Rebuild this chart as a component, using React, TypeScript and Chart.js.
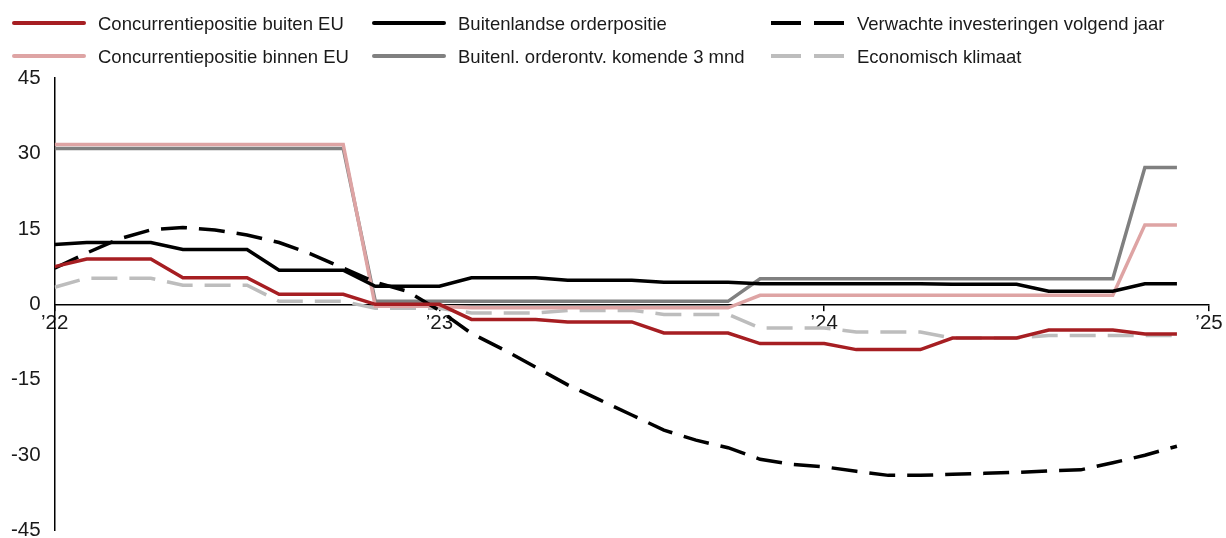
import React, { useEffect, useRef } from "react";
import { Chart, registerables } from "chart.js";

Chart.register(...registerables);

const months: string[] = [
  "jan 2022", "feb 2022", "mrt 2022", "apr 2022", "mei 2022", "jun 2022",
  "jul 2022", "aug 2022", "sep 2022", "okt 2022", "nov 2022", "dec 2022",
  "jan 2023", "feb 2023", "mrt 2023", "apr 2023", "mei 2023", "jun 2023",
  "jul 2023", "aug 2023", "sep 2023", "okt 2023", "nov 2023", "dec 2023",
  "jan 2024", "feb 2024", "mrt 2024", "apr 2024", "mei 2024", "jun 2024",
  "jul 2024", "aug 2024", "sep 2024", "okt 2024", "nov 2024", "dec 2024",
];

const yearLabels: string[] = ["\u201922", "\u201923", "\u201924", "\u201925"];
const yTicks: number[] = [-45, -30, -15, 0, 15, 30, 45];

const concBuitenEU: number[] = [
  7.5, 9, 9, 9, 5.3, 5.3, 5.3, 2, 2, 2, 0, 0, 0, -3.0, -3.0, -3.0, -3.5, -3.5,
  -3.5, -5.7, -5.7, -5.7, -7.8, -7.8, -7.8, -9, -9, -9, -6.7, -6.7, -6.7, -5.1,
  -5.1, -5.1, -5.9, -5.9,
];

const concBinnenEU: number[] = [
  31.8, 31.8, 31.8, 31.8, 31.8, 31.8, 31.8, 31.8, 31.8, 31.8, -0.4, -0.4, -0.4,
  -0.7, -0.7, -0.7, -0.7, -0.7, -0.7, -0.7, -0.7, -0.7, 1.8, 1.8, 1.8, 1.8, 1.8,
  1.8, 1.8, 1.8, 1.8, 1.8, 1.8, 1.8, 15.8, 15.8,
];

const orderpositie: number[] = [
  11.9, 12.3, 12.3, 12.3, 10.9, 10.9, 10.9, 6.8, 6.8, 6.8, 3.6, 3.6, 3.6, 5.3,
  5.3, 5.3, 4.8, 4.8, 4.8, 4.4, 4.4, 4.4, 4.1, 4.1, 4.1, 4.1, 4.1, 4.1, 4.0, 4.0,
  4.0, 2.6, 2.6, 2.6, 4.1, 4.1,
];

const orderontvangst: number[] = [
  31, 31, 31, 31, 31, 31, 31, 31, 31, 31, 0.6, 0.6, 0.6, 0.6, 0.6, 0.6, 0.6, 0.6,
  0.6, 0.6, 0.6, 0.6, 5.1, 5.1, 5.1, 5.1, 5.1, 5.1, 5.1, 5.1, 5.1, 5.1, 5.1, 5.1,
  27.2, 27.2,
];

const investeringen: number[] = [
  7.2, 10.2, 13, 14.8, 15.3, 14.8, 13.8, 12.3, 10, 7.2, 4.4, 2.6, -1.2, -5.8, -9,
  -12.5, -16, -19, -22, -25, -27, -28.5, -30.8, -31.8, -32.3, -33.2, -34, -34,
  -33.8, -33.6, -33.4, -33.1, -32.9, -31.5, -30, -28.2,
];

const klimaat: number[] = [
  3.4, 5.2, 5.2, 5.2, 3.8, 3.8, 3.8, 0.6, 0.6, 0.6, -0.8, -0.8, -0.8, -1.7, -1.7,
  -1.7, -1.2, -1.2, -1.2, -2.0, -2.0, -2.0, -4.7, -4.7, -4.7, -5.5, -5.5, -5.5,
  -6.7, -6.7, -6.7, -6.2, -6.2, -6.2, -6.2, -6.2,
];

const FONT = "'Liberation Sans', Arial, sans-serif";
const TEXT = "#1a1a1a";

const series = [
  { label: "Concurrentiepositie buiten EU", data: concBuitenEU, color: "#a61e22", dash: [] as number[], width: 3.5 },
  { label: "Buitenlandse orderpositie", data: orderpositie, color: "#000000", dash: [] as number[], width: 3.5 },
  { label: "Verwachte investeringen volgend jaar", data: investeringen, color: "#000000", dash: [26, 12], width: 3.5 },
  { label: "Concurrentiepositie binnen EU", data: concBinnenEU, color: "#dea4a4", dash: [] as number[], width: 3.5 },
  { label: "Buitenl. orderontv. komende 3 mnd", data: orderontvangst, color: "#808080", dash: [] as number[], width: 3.5 },
  { label: "Economisch klimaat", data: klimaat, color: "#bdbdbd", dash: [26, 12], width: 3.5 },
];

const legendPlugin = {
  id: "gridLegend",
  afterDraw(chart: any) {
    const ctx = chart.ctx as CanvasRenderingContext2D;
    const colX = [12, 372, 771];
    const rowY = [23, 56];
    const sampleW = 74;
    const gap = 12;
    ctx.save();
    ctx.font = `18.5px ${FONT}`;
    ctx.textBaseline = "middle";
    ctx.textAlign = "left";
    chart.data.datasets.forEach((ds: any, i: number) => {
      const col = i % 3;
      const row = Math.floor(i / 3);
      const x = colX[col];
      const y = rowY[row];
      const dashed = ds.borderDash && ds.borderDash.length;
      ctx.beginPath();
      ctx.strokeStyle = ds.borderColor;
      ctx.lineWidth = 4;
      ctx.lineCap = dashed ? "butt" : "round";
      ctx.setLineDash(dashed ? [30, 13] : []);
      ctx.moveTo(x + (dashed ? 0 : 2), y);
      ctx.lineTo(x + sampleW - (dashed ? 0 : 2), y);
      ctx.stroke();
      ctx.setLineDash([]);
      ctx.fillStyle = TEXT;
      ctx.fillText(ds.label, x + sampleW + gap, y + 1.5);
    });
    ctx.restore();
  },
};

export default function App() {
  const ref = useRef<HTMLCanvasElement | null>(null);

  useEffect(() => {
    if (!ref.current) return;
    const chart = new Chart(ref.current, {
      type: "line",
      data: {
        labels: months,
        datasets: series.map((s) => ({
          label: s.label,
          data: s.data.map((v, i) => ({ x: i, y: v })),
          borderColor: s.color,
          backgroundColor: s.color,
          borderDash: s.dash,
          borderWidth: s.width,
          pointRadius: 0,
          tension: 0,
          fill: false,
        })),
      },
      options: {
        responsive: false,
        maintainAspectRatio: false,
        animation: false,
        layout: { padding: { top: 78, left: -3, right: 17, bottom: 4 } },
        plugins: {
          legend: { display: false },
          tooltip: { enabled: false },
        },
        scales: {
          x: {
            type: "linear",
            position: { y: 0 } as any,
            min: 0,
            max: 36,
            afterBuildTicks: (axis: any) => {
              axis.ticks = yearLabels.map((_, i) => ({ value: i * 12 }));
            },
            ticks: {
              callback: (v: any) => yearLabels[Math.round(Number(v) / 12)],
              font: { family: FONT, size: 20.5 },
              color: TEXT,
              padding: 1,
              maxRotation: 0,
              autoSkip: false,
              showLabelBackdrop: true,
              backdropColor: "#ffffff",
              backdropPadding: { top: 0, bottom: 0, left: 1, right: 1 },
            } as any,
            grid: {
              display: true,
              drawOnChartArea: false,
              drawTicks: true,
              tickLength: 6,
              color: "#000000",
              lineWidth: 1.5,
            },
            border: { display: true, color: "#000000", width: 1.5 },
          },
          y: {
            type: "linear",
            position: "left",
            min: -45,
            max: 45,
            afterBuildTicks: (axis: any) => {
              axis.ticks = yTicks.map((v) => ({ value: v }));
            },
            ticks: {
              font: { family: FONT, size: 20.5 },
              color: TEXT,
              padding: 14,
            },
            grid: { display: false, drawTicks: false },
            border: { display: true, color: "#000000", width: 1.5 },
          },
        },
      },
      plugins: [legendPlugin],
    });
    return () => chart.destroy();
  }, []);

  return (
    <div
      style={{
        position: "absolute",
        top: 0,
        left: 0,
        width: 1226,
        height: 538,
        overflow: "hidden",
        background: "#ffffff",
      }}
    >
      <canvas ref={ref} width={1226} height={557} style={{ display: "block" }} />
    </div>
  );
}
